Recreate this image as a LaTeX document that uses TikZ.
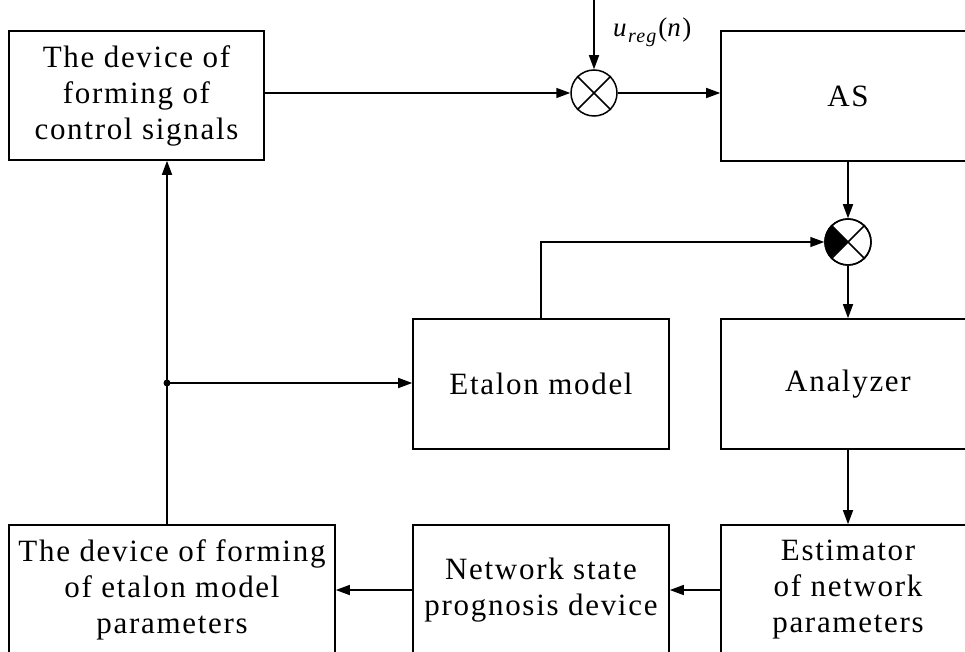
\documentclass[tikz,border=0pt]{standalone}
\usepackage{fontspec}
\setmainfont[LetterSpace=5.5]{Liberation Serif}
\usetikzlibrary{arrows.meta}

\begin{document}
\begin{tikzpicture}[x=1pt,y=1pt,
    block/.style ={draw, line width=1.6pt, align=center, inner sep=0pt,
                   font=\fontsize{31}{36}\selectfont},
    junction/.style ={circle, draw, line width=1.5pt, minimum size=46pt, inner sep=0pt},
    signal/.style ={line width=1.5pt, -{Triangle[length=14pt,width=10pt]}}]
   \useasboundingbox (0,0) rectangle (965,-652);
   \clip (0,0) rectangle (965,-652);

   \node[block, minimum width=255pt, minimum height=129pt] (control) at (136.5,-95.5) {The device of\\forming of\\control signals};
   \node[block, minimum width=254pt, minimum height=130pt] (as) at (848,-96) {AS};
   \node[junction] (sumin) at (594,-93) {};
   \node[junction] (sumout) at (848,-242) {};
   \node[block, minimum width=256pt, minimum height=130pt] (etalon) at (541,-384) {Etalon model};
   \node[block, minimum width=254pt, minimum height=130pt] (analyzer) at (848,-384) {Analyzer};
   \node[block, minimum width=254pt, minimum height=130pt] (estimator) at (848,-590) {Estimator\\of network\\parameters};
   \node[block, minimum width=256pt, minimum height=130pt] (prognosis) at (541,-590) {Network state\\prognosis device};
   \node[block, minimum width=326pt, minimum height=130pt] (etparams) at (172,-590) {The device of forming\\of etalon model\\parameters};
   \node[font=\fontsize{27}{27}\selectfont, inner sep=0pt, anchor=base west] (ureg) at (613,-37)
      {\textit{u}\raisebox{-6pt}{\fontsize{20}{20}\selectfont\textit{reg}}\kern1pt(\textit{n})};
   \coordinate (input) at (594,0);
   \coordinate (branch) at (167,-383);

   % junction marks
   \draw[line width=1.5pt] (sumin.45) -- (sumin.225) (sumin.135) -- (sumin.-45);
   \fill (sumout.center) -- (sumout.135) arc[start angle=135, end angle=225, radius=23pt] -- cycle;
   \draw[line width=1.5pt] (sumout.45) -- (sumout.225) (sumout.135) -- (sumout.-45);
   \node[junction] at (sumout) {};

   \draw[signal] (input) -- (sumin.north);
   \draw[signal] (control.east |- sumin.west) -- (sumin.west);
   \draw[signal] (sumin.east) -- (sumin.east -| as.west);
   \draw[signal] (as.south) -- (sumout.north);
   \draw[signal] (etalon.north) |- (sumout.west);
   \draw[signal] (sumout.south) -- (analyzer.north);
   \draw[signal] (analyzer.south) -- (estimator.north);
   \draw[signal] (estimator.west) -- (prognosis.east);
   \draw[signal] (prognosis.west) -- (etparams.east);
   \draw[signal] (etparams.north -| branch) -- (branch |- control.south);
   \draw[signal] (branch) -- (branch -| etalon.west);
   \fill (branch) circle (3.5pt);
\end{tikzpicture}
\end{document}
